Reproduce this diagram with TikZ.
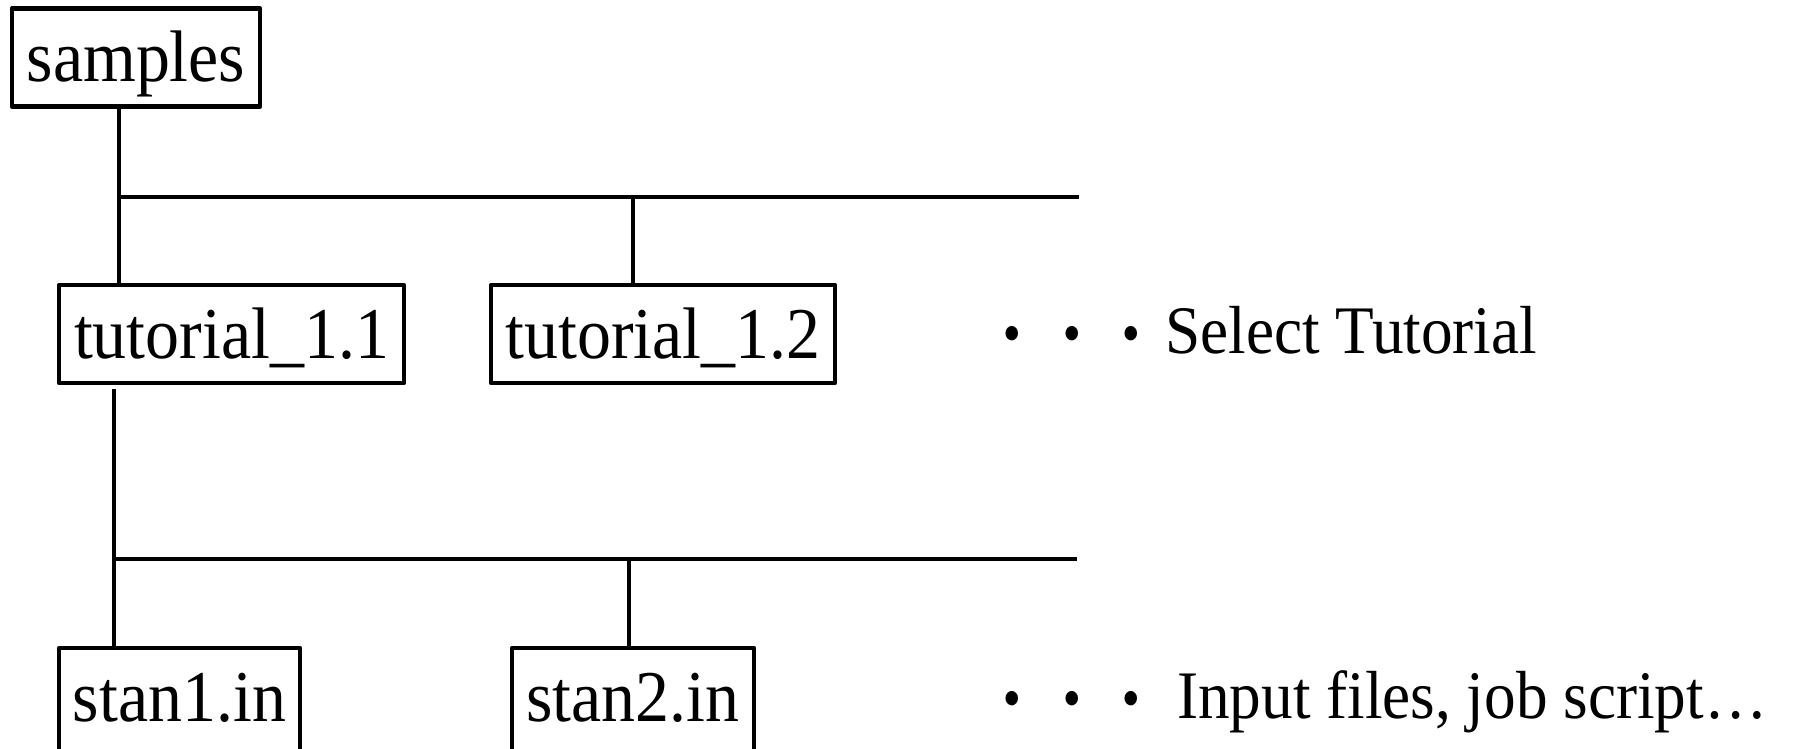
\documentclass[tikz,border=0pt]{standalone}
\usepackage{fontspec}
\setmainfont{Liberation Serif}[FakeStretch=0.93]
\newfontfamily\cjk{Noto Sans CJK JP}[FakeStretch=0.875]
\tikzset{
  box/.style={draw, line width=1.2pt, line join=round, inner sep=0pt,
    minimum height=24.5pt, text height=12.75pt, text depth=0.5pt,
    font=\fontsize{18.25pt}{22pt}\selectfont},
  filebox/.style={box, minimum height=26pt, text height=11pt},
  lbl/.style={anchor=base west, inner sep=0pt, font=\fontsize{17pt}{20pt}\selectfont},
  conn/.style={line width=1.2pt}
}
\begin{document}
\begin{tikzpicture}[x=0.25pt, y=-0.25pt]
\useasboundingbox (0,0) rectangle (1794,748);
\node[box, minimum width=62pt] (samples) at (136,57.5) {samples};
\node[box, minimum width=86.25pt] (t11) at (231.5,334) {tutorial\_1.1};
\node[box, minimum width=86pt] (t12) at (663,334) {tutorial\_1.2};
\node[filebox, minimum width=60.25pt] (stan1) at (179.5,700) {stan1.in};
\node[filebox, minimum width=60.5pt] (stan2) at (633,700) {stan2.in};
\node[lbl] (sel) at (982,353) {\raisebox{-1.5pt}{\cjk ・・・}\hspace{1pt}Select Tutorial};
\node[lbl] (inp) at (982,718) {\raisebox{-1.5pt}{\cjk ・・・} Input files, job script…};
\coordinate (b1s) at (119,197);
\coordinate (b1e) at (1079,197);
\coordinate (c12) at (633,197);
\coordinate (t11d) at (114,389);
\coordinate (b2s) at (114,559);
\coordinate (b2e) at (1077,559);
\coordinate (c22) at (629,559);
\draw[conn] (samples.south -| b1s) -- (t11.north -| b1s);
\draw[conn] (b1s) -- (b1e);
\draw[conn] (c12) -- (t12.north -| c12);
\draw[conn] (t11d) -- (stan1.north -| t11d);
\draw[conn] (b2s) -- (b2e);
\draw[conn] (c22) -- (stan2.north -| c22);
\end{tikzpicture}
\end{document}
